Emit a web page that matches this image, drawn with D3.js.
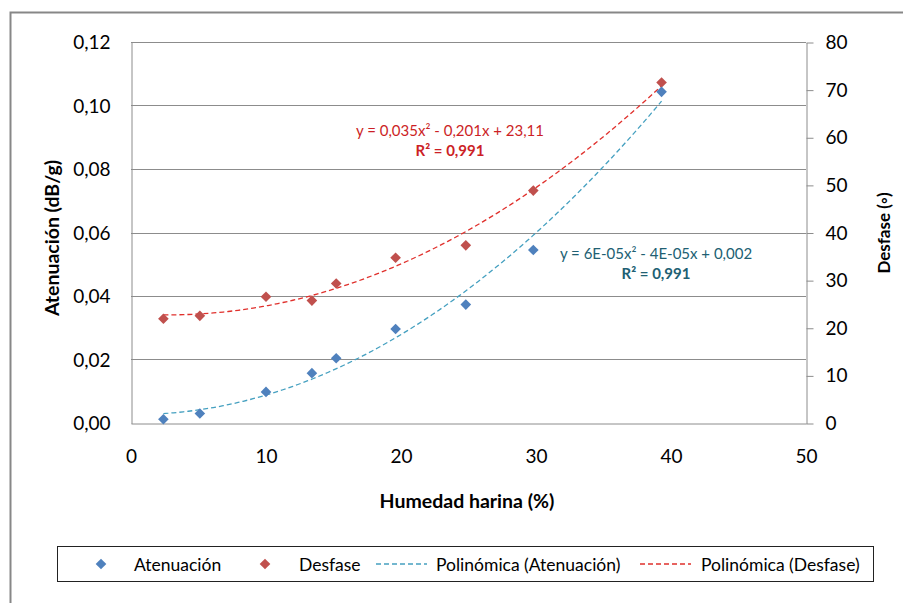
<!DOCTYPE html>
<html>
<head>
<meta charset="utf-8">
<script src="https://cdn.jsdelivr.net/npm/d3@7"></script>
<style>
  body { margin: 0; background: #fff; }
  text { font-family: Lato, "Open Sans", sans-serif; fill: #000; }
</style>
</head>
<body>
<div id="chart"></div>
<script>
const w = 903;
const h = 603;

// humedad harina (%)
const humedad = [2.4, 5.1, 10.0, 13.4, 15.2, 19.6, 24.8, 29.8, 39.3];
// atenuacion (dB/g), left axis
const atenuacion = [0.0012, 0.0030, 0.0098, 0.0157, 0.0204, 0.0296, 0.0373, 0.0545, 0.1043];
// desfase (grados), right axis
const desfase = [21.9, 22.5, 26.5, 25.7, 29.3, 34.7, 37.3, 48.8, 71.5];

const xTicks = [0, 10, 20, 30, 40, 50];
const leftTicks = [0, 0.02, 0.04, 0.06, 0.08, 0.10, 0.12];
const rightTicks = [0, 10, 20, 30, 40, 50, 60, 70, 80];

const eqAtenuacion = ['y = 6E-05x² - 4E-05x + 0,002', 'R² = 0,991'];
const eqDesfase = ['y = 0,035x² - 0,201x + 23,11', 'R² = 0,991'];

const legendLabels = ['Atenuación', 'Desfase', 'Polinómica (Atenuación)', 'Polinómica (Desfase)'];

const blue = '#4f81bd';
const red = '#c0504d';
const blueTrend = '#45a0c0';
const redTrend = '#e0302c';

// least squares quadratic, like excel's polynomial trendline
fitQuad = (xs, ys) => {
  const s = [0, 0, 0, 0, 0];
  const t = [0, 0, 0];
  xs.forEach((x, i) => {
    for (let k = 0; k < 5; k++) s[k] += Math.pow(x, k);
    for (let k = 0; k < 3; k++) t[k] += Math.pow(x, k) * ys[i];
  });
  const m = [
    [s[0], s[1], s[2], t[0]],
    [s[1], s[2], s[3], t[1]],
    [s[2], s[3], s[4], t[2]]
  ];
  for (let i = 0; i < 3; i++) {
    for (let j = i + 1; j < 3; j++) {
      const f = m[j][i] / m[i][i];
      for (let k = i; k < 4; k++) m[j][k] -= f * m[i][k];
    }
  }
  const c = [0, 0, 0];
  for (let i = 2; i >= 0; i--) {
    let v = m[i][3];
    for (let k = i + 1; k < 3; k++) v -= m[i][k] * c[k];
    c[i] = v / m[i][i];
  }
  return x => c[0] + c[1] * x + c[2] * x * x;
}

const svg = d3.select('#chart')
  .append('svg')
  .attr('width', w)
  .attr('height', h);

svg.append('rect').attr('width', w).attr('height', h).attr('fill', '#fff');

// outer frame (only left and top visible)
svg.append('path')
  .attr('d', 'M10.5,' + h + 'V12.5H' + w)
  .attr('fill', 'none')
  .attr('stroke', '#878787')
  .attr('stroke-width', 2);

const x = d3.scaleLinear().domain([0, 50]).range([131, 806]);
const yL = d3.scaleLinear().domain([0, 0.12]).range([423, 42]);
const yR = d3.scaleLinear().domain([0, 80]).range([423, 42]);

// gridlines
svg.append('g')
  .selectAll('line')
  .data(leftTicks.slice(1))
  .enter()
  .append('line')
  .attr('x1', x(0))
  .attr('x2', x(50))
  .attr('y1', d => Math.round(yL(d)) + 0.5)
  .attr('y2', d => Math.round(yL(d)) + 0.5)
  .attr('stroke', '#8c8c8c')
  .attr('stroke-width', 1);

// left axis
const gl = svg.append('g')
  .attr('transform', 'translate(' + (x(0) + 0.5) + ',0.5)')
  .call(d3.axisLeft(yL).tickValues(leftTicks).tickSize(0).tickPadding(21)
    .tickFormat(d => d3.format('.2f')(d).replace('.', ',')));
gl.select('.domain').attr('stroke', '#8c8c8c');
gl.selectAll('text').style('font-size', '19px').attr('fill', '#000');

// bottom axis
const gb = svg.append('g')
  .attr('transform', 'translate(0,' + (yL(0) + 0.5) + ')')
  .call(d3.axisBottom(x).tickValues(xTicks).tickSize(0).tickPadding(26).tickFormat(d3.format('d')));
gb.select('.domain').attr('stroke', '#8c8c8c');
gb.selectAll('text').style('font-size', '19px').attr('fill', '#000');

// right axis
const gr = svg.append('g')
  .attr('transform', 'translate(' + (x(50) + 0.5) + ',0.5)')
  .call(d3.axisRight(yR).tickValues(rightTicks).tickSize(7).tickSizeOuter(0).tickPadding(12).tickFormat(d3.format('d')));
gr.select('.domain').attr('stroke', '#8c8c8c');
gr.selectAll('line').attr('stroke', '#8c8c8c');
gr.selectAll('text').style('font-size', '19px').attr('fill', '#000');

// axis titles
svg.append('text')
  .attr('x', 467)
  .attr('y', 500)
  .attr('text-anchor', 'middle')
  .attr('dominant-baseline', 'central')
  .style('font-size', '19.5px')
  .style('font-weight', 'bold')
  .text('Humedad harina (%)');

svg.append('text')
  .attr('transform', 'translate(51,238) rotate(-90)')
  .attr('text-anchor', 'middle')
  .attr('dominant-baseline', 'central')
  .style('font-size', '19.5px')
  .style('font-weight', 'bold')
  .text('Atenuación (dB/g)');

svg.append('text')
  .attr('transform', 'translate(883,233) rotate(-90)')
  .attr('text-anchor', 'middle')
  .attr('dominant-baseline', 'central')
  .style('font-size', '17px')
  .style('font-weight', 'bold')
  .text('Desfase (◦)');

// trendlines
const xMin = d3.min(humedad);
const xMax = d3.max(humedad);
const xs = d3.range(0, 101).map(i => xMin + (xMax - xMin) * i / 100);

const fA = fitQuad(humedad, atenuacion);
const fD = fitQuad(humedad, desfase);

svg.append('path')
  .datum(xs)
  .attr('d', d3.line().x(d => x(d)).y(d => yL(fA(d))))
  .attr('fill', 'none')
  .attr('stroke', blueTrend)
  .attr('stroke-width', 1.3)
  .attr('stroke-dasharray', '5,3');

svg.append('path')
  .datum(xs)
  .attr('d', d3.line().x(d => x(d)).y(d => yR(fD(d))))
  .attr('fill', 'none')
  .attr('stroke', redTrend)
  .attr('stroke-width', 1.3)
  .attr('stroke-dasharray', '5,3');

// markers
const diamond = d3.symbol().type(d3.symbolDiamond2).size(72);

svg.append('g')
  .selectAll('path')
  .data(humedad)
  .enter()
  .append('path')
  .attr('d', diamond)
  .attr('transform', (d, i) => 'translate(' + x(d) + ',' + yR(desfase[i]) + ')')
  .attr('fill', red);

svg.append('g')
  .selectAll('path')
  .data(humedad)
  .enter()
  .append('path')
  .attr('d', diamond)
  .attr('transform', (d, i) => 'translate(' + x(d) + ',' + yL(atenuacion[i]) + ')')
  .attr('fill', blue);

// equations
const eq = (lines, cx, cy, color) => {
  lines.forEach((t, i) => {
    svg.append('text')
      .attr('x', cx)
      .attr('y', cy + i * 20)
      .attr('text-anchor', 'middle')
      .attr('dominant-baseline', 'central')
      .style('font-size', '15px')
      .style('font-weight', i == 1 ? 'bold' : 'normal')
      .style('fill', color)
      .text(t);
  });
}
eq(eqDesfase, 450, 130, '#cc1f26');
eq(eqAtenuacion, 656, 253, '#215f73');

// legend
svg.append('rect')
  .attr('x', 57.5)
  .attr('y', 546.5)
  .attr('width', 816)
  .attr('height', 35)
  .attr('fill', '#fff')
  .attr('stroke', '#222')
  .attr('stroke-width', 1);

const ly = 564;
const legendItems = [
  { type: 'marker', color: blue, sx: 101, tx: 134 },
  { type: 'marker', color: red, sx: 265, tx: 299 },
  { type: 'line', color: blueTrend, sx: 376, tx: 436 },
  { type: 'line', color: redTrend, sx: 640, tx: 701 }
];

legendItems.forEach((it, i) => {
  if (it.type == 'marker') {
    svg.append('path')
      .attr('d', diamond)
      .attr('transform', 'translate(' + it.sx + ',' + ly + ')')
      .attr('fill', it.color);
  } else {
    svg.append('line')
      .attr('x1', it.sx)
      .attr('x2', it.sx + 51)
      .attr('y1', ly)
      .attr('y2', ly)
      .attr('stroke', it.color)
      .attr('stroke-width', 1.3)
      .attr('stroke-dasharray', '5,3');
  }
  svg.append('text')
    .attr('x', it.tx)
    .attr('y', ly)
    .attr('dominant-baseline', 'central')
    .style('font-size', '17.5px')
    .text(legendLabels[i]);
});
</script>
</body>
</html>
